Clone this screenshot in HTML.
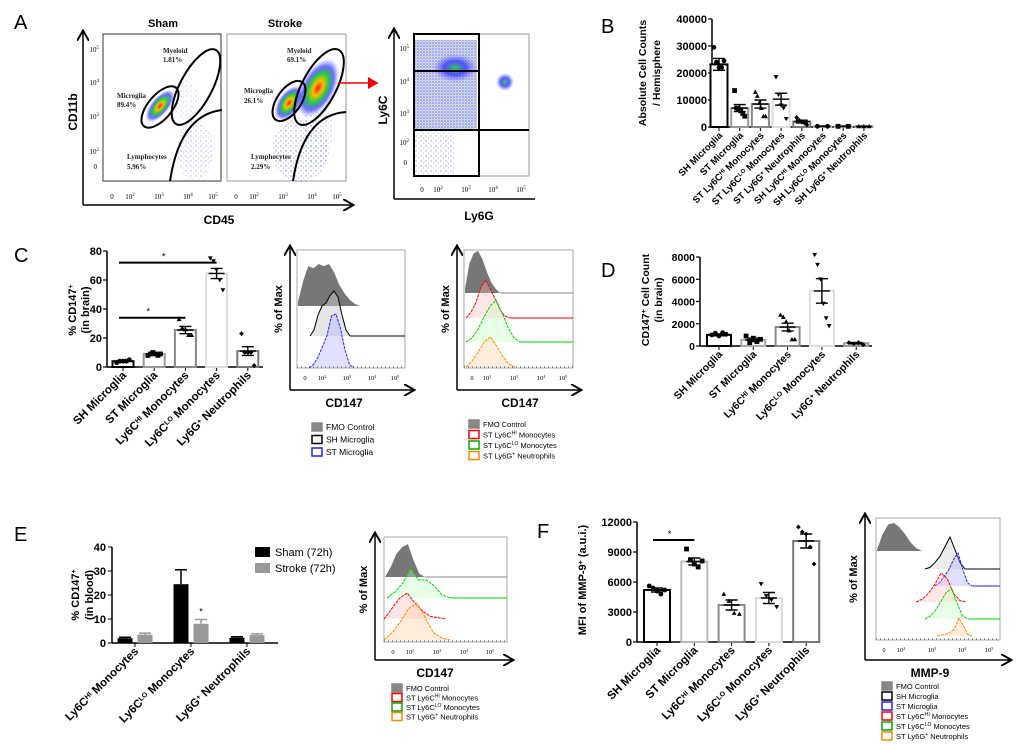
<!DOCTYPE html>
<html><head><meta charset="utf-8"><style>
html,body{margin:0;padding:0;background:#fff;}
svg{display:block;font-family:"Liberation Sans",sans-serif;}
.b{font-weight:bold;}
</style></head><body>
<svg id="fig" width="1020" height="744" viewBox="0 0 1020 744" xmlns="http://www.w3.org/2000/svg">
<defs>
<radialGradient id="heat" cx="50%" cy="50%" r="50%">
<stop offset="0" stop-color="#e22"/><stop offset="0.25" stop-color="#fb0"/><stop offset="0.5" stop-color="#2c4"/><stop offset="0.75" stop-color="#33f" stop-opacity="0.7"/><stop offset="1" stop-color="#66f" stop-opacity="0"/>
</radialGradient>
<radialGradient id="heatg" cx="50%" cy="50%" r="50%">
<stop offset="0" stop-color="#3c5"/><stop offset="0.5" stop-color="#33f" stop-opacity="0.8"/><stop offset="1" stop-color="#66f" stop-opacity="0"/>
</radialGradient>
<pattern id="dots" width="5" height="5" patternUnits="userSpaceOnUse"><circle cx="1" cy="1" r="0.7" fill="#55f"/><circle cx="3.5" cy="3" r="0.6" fill="#88f"/></pattern>
<pattern id="dense" width="3" height="3" patternUnits="userSpaceOnUse"><rect width="3" height="3" fill="#bbf"/><circle cx="1" cy="1" r="0.9" fill="#22d"/><circle cx="2.4" cy="2.2" r="0.6" fill="#4a4"/></pattern>
<marker id="arr" markerWidth="8" markerHeight="8" refX="6" refY="4" orient="auto"><path d="M0,0 L7,4 L0,8" fill="none" stroke="#000" stroke-width="1.3"/></marker>
<marker id="arrR" markerWidth="8" markerHeight="8" refX="6" refY="4" orient="auto"><path d="M0,0 L7,4 L0,8 z" fill="#e00"/></marker>
</defs>

<g font-size="20">
<text x="14" y="29">A</text>
<text x="601" y="33">B</text>
<text x="14" y="262">C</text>
<text x="601" y="277">D</text>
<text x="14" y="541">E</text>
<text x="537" y="538">F</text>
</g>

<g>
<text x="163" y="27" font-size="11" class="b" text-anchor="middle">Sham</text>
<text x="285" y="27" font-size="11" class="b" text-anchor="middle">Stroke</text>
<rect x="103" y="34" width="118" height="147" fill="#fff" stroke="#333"/>
<rect x="227" y="34" width="119" height="147" fill="#fff" stroke="#999"/>
<line x1="83" y1="205" x2="83" y2="32" stroke="#000" stroke-width="1.5" marker-end="url(#arr)"/>
<line x1="83" y1="205" x2="352" y2="205" stroke="#000" stroke-width="1.5" marker-end="url(#arr)"/>
<text transform="translate(77,112) rotate(-90)" font-size="12" class="b" text-anchor="middle">CD11b</text>
<text x="219" y="224" font-size="12" class="b" text-anchor="middle">CD45</text>
<ellipse cx="195" cy="150" rx="18" ry="30" fill="url(#dots)" opacity="0.5"/>
<ellipse cx="185" cy="100" rx="14" ry="20" fill="url(#dots)" opacity="0.35"/>
<ellipse cx="300" cy="150" rx="28" ry="32" fill="url(#dots)" opacity="0.7"/>
<ellipse cx="318" cy="130" rx="14" ry="40" fill="url(#dots)" opacity="0.5"/>
<ellipse cx="160" cy="106" rx="20" ry="9" transform="rotate(-50 160 106)" fill="url(#heat)"/>
<ellipse cx="289" cy="103" rx="20" ry="11" transform="rotate(-55 289 103)" fill="url(#heat)"/>
<ellipse cx="318" cy="88" rx="32" ry="17" transform="rotate(-62 318 88)" fill="url(#heat)"/>
<g fill="none" stroke="#000" stroke-width="2">
<ellipse cx="160" cy="107" rx="25" ry="12" transform="rotate(-50 160 107)"/>
<ellipse cx="196" cy="87" rx="42" ry="16" transform="rotate(-62 196 87)"/>
<path d="M170 181 Q180 115 222 110"/>
<ellipse cx="289" cy="101" rx="23" ry="12" transform="rotate(-55 289 101)"/>
<ellipse cx="319" cy="87" rx="42" ry="17" transform="rotate(-62 319 87)"/>
<path d="M293 181 Q303 115 346 112"/>
</g>
<g font-family="Liberation Serif,serif" font-size="7" class="b" fill="#222">
<text x="163" y="53">Myeloid</text><text x="163" y="62">1.81%</text>
<text x="117" y="98">Microglia</text><text x="117" y="107">89.4%</text>
<text x="127" y="159">Lymphocytes</text><text x="127" y="169">5.96%</text>
<text x="287" y="53">Myeloid</text><text x="287" y="62">69.1%</text>
<text x="244" y="93">Microglia</text><text x="244" y="103">26.1%</text>
<text x="251" y="159">Lymphocytes</text><text x="251" y="169">2.29%</text>
</g>
<g font-family="Liberation Serif,serif" font-size="7" text-anchor="end">
<text x="99" y="52">10<tspan dy="-3" font-size="5">5</tspan></text>
<text x="99" y="85">10<tspan dy="-3" font-size="5">4</tspan></text>
<text x="99" y="119">10<tspan dy="-3" font-size="5">3</tspan></text>
<text x="99" y="154">10<tspan dy="-3" font-size="5">2</tspan></text>
<text x="97" y="169">0</text>
</g>
<g font-family="Liberation Serif,serif" font-size="7" text-anchor="middle">
<text x="112" y="199">0</text><text x="130" y="199">10<tspan dy="-3" font-size="5">2</tspan></text><text x="159" y="199">10<tspan dy="-3" font-size="5">3</tspan></text><text x="188" y="199">10<tspan dy="-3" font-size="5">4</tspan></text><text x="213" y="199">10<tspan dy="-3" font-size="5">5</tspan></text>
<text x="236" y="199">0</text><text x="254" y="199">10<tspan dy="-3" font-size="5">2</tspan></text><text x="283" y="199">10<tspan dy="-3" font-size="5">3</tspan></text><text x="312" y="199">10<tspan dy="-3" font-size="5">4</tspan></text><text x="337" y="199">10<tspan dy="-3" font-size="5">5</tspan></text>
</g>
<line x1="338" y1="83" x2="377" y2="83" stroke="#e00" stroke-width="1.5" marker-end="url(#arrR)"/>
<rect x="414" y="34" width="115" height="142" fill="#fff" stroke="#999"/>
<rect x="415" y="40" width="62" height="90" fill="url(#dense)" opacity="0.55"/>
<rect x="415" y="130" width="40" height="45" fill="url(#dots)" opacity="0.6"/>
<ellipse cx="455" cy="68" rx="22" ry="14" fill="url(#heatg)"/>
<ellipse cx="505" cy="82" rx="9" ry="9" fill="url(#heatg)"/>
<g stroke="#000" stroke-width="2" fill="none">
<rect x="414" y="34" width="65" height="142"/>
<line x1="414" y1="71" x2="479" y2="71"/><line x1="414" y1="130" x2="529" y2="130"/>
</g>
<line x1="394" y1="199" x2="394" y2="30" stroke="#000" stroke-width="1.5" marker-end="url(#arr)"/>
<line x1="394" y1="199" x2="535" y2="199" stroke="#000" stroke-width="1.5"/>
<text transform="translate(387,110) rotate(-90)" font-size="12" class="b" text-anchor="middle">Ly6C</text>
<text x="479" y="220" font-size="12" class="b" text-anchor="middle">Ly6G</text>
<g font-family="Liberation Serif,serif" font-size="7" text-anchor="end">
<text x="409" y="51">10<tspan dy="-3" font-size="5">5</tspan></text><text x="409" y="84">10<tspan dy="-3" font-size="5">4</tspan></text><text x="409" y="116">10<tspan dy="-3" font-size="5">3</tspan></text><text x="409" y="145">10<tspan dy="-3" font-size="5">2</tspan></text><text x="407" y="165">0</text>
</g>
<g font-family="Liberation Serif,serif" font-size="7" text-anchor="middle">
<text x="422" y="192">0</text><text x="438" y="192">10<tspan dy="-3" font-size="5">2</tspan></text><text x="466" y="192">10<tspan dy="-3" font-size="5">3</tspan></text><text x="493" y="192">10<tspan dy="-3" font-size="5">4</tspan></text><text x="521" y="192">10<tspan dy="-3" font-size="5">5</tspan></text>
</g>
</g>

<g id="charts"></g>
<g id="hists"></g>

<g font-size="11">
<rect x="255" y="547" width="15" height="10" fill="#000"/>
<text x="275" y="556">Sham (72h)</text>
<rect x="255" y="563" width="15" height="10" fill="#999"/>
<text x="275" y="572">Stroke (72h)</text>
</g>
</svg>
<script>
const bCategories = ["SH Microglia","ST Microglia","ST Ly6C^HI Monocytes","ST Ly6C^LO Monocytes","ST Ly6G^+ Neutrophils","SH Ly6C^HI Monocytes","SH Ly6C^LO Monocytes","SH Ly6G^+ Neutrophils"];
const bMeans = [23200, 7000, 8500, 10300, 2000, 250, 250, 250];
const bSem = [2200, 1300, 1500, 2200, 500, 80, 80, 80];
const bPoints = [[29500,24000,22000,22000,24500],[13500,7000,6500,6000,5000,4000],[13000,11500,9000,7000,4000,4000],[18500,12000,8000,7000,3000],[3500,2500,1800,1500,800],[250,250],[250,250],[250,250,250]];
const bTicks = [0,10000,20000,30000,40000];

const cCategories = ["SH Microglia","ST Microglia","Ly6C^HI Monocytes","Ly6C^LO Monocytes","Ly6G^+ Neutrophils"];
const cMeans = [4, 9, 25.5, 64.5, 11];
const cSem = [0.5, 0.5, 2.5, 3.5, 3];
const cPoints = [[3,4,4,4,5],[8,9,10,9,8,9],[33,27,26,22,22],[75,73,67,60,53],[23,10,10,10,1]];
const cTicks = [0,20,40,60,80];

const dCategories = ["SH Microglia","ST Microglia","Ly6C^HI Monocytes","Ly6C^LO Monocytes","Ly6G^+ Neutrophils"];
const dMeans = [1000, 550, 1700, 4950, 250];
const dSem = [80, 150, 350, 1100, 60];
const dPoints = [[1000,1150,900,1200,1050],[900,300,700,400,600],[2800,2600,2200,1400,600,600],[8200,7300,6000,3800,2500,1800],[300,200,300,100]];
const dTicks = [0,2000,4000,6000,8000];

const eCategories = ["Ly6C^HI Monocytes","Ly6C^LO Monocytes","Ly6G^+ Neutrophils"];
const eSham = [2, 24.5, 2.2];
const eShamErr = [0.4, 6, 0.4];
const eStroke = [3.5, 8, 3.3];
const eStrokeErr = [0.6, 1.8, 0.5];
const eTicks = [0,10,20,30,40];

const fCategories = ["SH Microglia","ST Microglia","Ly6C^HI Monocytes","Ly6C^LO Monocytes","Ly6G^+ Neutrophils"];
const fMeans = [5200, 8050, 3700, 4400, 10100];
const fSem = [200, 350, 500, 550, 700];
const fPoints = [[5600,5400,5100,4800,5200],[9300,8200,7800,7500,8100],[4800,4100,2900,2800],[5800,4600,4200,3500],[11500,11000,10800,9500,7800]];
const fTicks = [0,3000,6000,9000,12000];

const hC1Fmo = [0.1,0.6,0.95,0.9,1,0.95,1,0.8,0.5,0.3,0.15,0.05,0];
const hC1Sh = [0,0.2,0.7,1,1.1,1.35,1.5,1.3,0.7,0.2,0];
const hC1St = [0,0.1,0.3,0.6,0.9,1.45,1.5,1.1,0.5,0.1,0];
const hC2Fmo = [0.1,0.7,0.95,1,0.8,0.5,0.25,0.1,0];
const hC2Red = [0,0.15,0.4,0.8,1,0.75,0.5,0.2,0.05,0];
const hC2Green = [0,0.1,0.3,0.6,0.85,1,0.7,0.35,0.1,0];
const hC2Orange = [0,0.2,0.5,0.85,1,0.7,0.35,0.1,0];
const hEFmo = [0,0.3,0.7,0.9,1,0.5,0.1,0];
const hEGreen = [0,0.2,0.5,1,0.6,0.6,0.4,0.1,0];
const hERed = [0,0.4,0.8,1,0.6,0.3,0.1,0.05,0];
const hEOrange = [0,0.2,0.5,0.85,1,0.6,0.2,0.05,0];
const hFFmo = [0.05,0.6,0.95,1,0.85,0.6,0.3,0.1,0];
const hFBlack = [0,0.05,0.2,0.4,0.7,1,0.6,0.2,0];
const hFBlue = [0,0.1,0.3,0.5,0.8,1,0.5,0.1,0];
const hFRed = [0,0.1,0.3,0.6,1,0.8,0.3,0.05,0];
const hFGreen = [0,0.1,0.3,0.6,0.9,1,0.5,0.1,0];
const hFOrange = [0,0.05,0.1,0.2,0.4,1,0.6,0.1,0];

const NS = "http://www.w3.org/2000/svg";
function mk(tag, attrs, parent){const e=document.createElementNS(NS,tag);for(const k in attrs)e.setAttribute(k,attrs[k]);if(parent)parent.appendChild(e);return e;}
function rich(t, str, fs){
  const parts = str.split(/(\^\S+)/);
  parts.forEach(p=>{ if(!p)return;
    if(p[0]==='^'){const s=mk('tspan',{'baseline-shift':'super','font-size':Math.round(fs*0.65)},t);s.textContent=p.slice(1);}
    else {const s=mk('tspan',{},t);s.textContent=p;}
  });
}
function marker(g, shape, x, y, r){
  let e;
  if(shape==='circle') e=mk('circle',{cx:x,cy:y,r:r},g);
  else if(shape==='square') e=mk('rect',{x:x-r,y:y-r,width:2*r,height:2*r},g);
  else if(shape==='up') e=mk('path',{d:`M${x},${y-r} L${x+r},${y+r*0.8} L${x-r},${y+r*0.8}Z`},g);
  else if(shape==='down') e=mk('path',{d:`M${x},${y+r} L${x+r},${y-r*0.8} L${x-r},${y-r*0.8}Z`},g);
  else e=mk('path',{d:`M${x},${y-r} L${x+r},${y} L${x},${y+r} L${x-r},${y}Z`},g);
  e.setAttribute('fill','#000');
  
  
}
const root = document.getElementById('charts');

function barChart(c){
  const g = mk('g',{},root);
  
  
  const yS = v => c.y0 - (v - c.ticks[0])/(c.ticks[c.ticks.length-1]-c.ticks[0])*(c.y0-c.y1);
  const xS = i => c.xs0 + i*c.step;
  mk('line',{x1:c.ax,y1:c.y1,x2:c.ax,y2:c.y0,stroke:'#000','stroke-width':1.5},g);
  mk('line',{x1:c.ax,y1:c.y0,x2:c.axEnd,y2:c.y0,stroke:'#000','stroke-width':1.5},g);
  c.ticks.forEach(t=>{
    const y=yS(t);
    mk('line',{x1:c.ax-4,y1:y,x2:c.ax,y2:y,stroke:'#000','stroke-width':1.2},g);
    const tx=mk('text',{x:c.ax-5,y:y+4,'font-size':c.tfs,'font-weight':'bold','text-anchor':'end'},g);
    tx.textContent=t;
    
    
  });
  c.cats.forEach((cat,i)=>{
    const x=xS(i);
    mk('line',{x1:x,y1:c.y0,x2:x,y2:c.y0+4,stroke:'#000'},g);
    const tx=mk('text',{transform:`translate(${x+4},${c.y0+9}) rotate(-45)`,'font-size':c.lfs,'font-weight':'bold','text-anchor':'end'},g);
    rich(tx,cat,c.lfs);
    
    
  });
  c.means.forEach((m,i)=>{
    const x=xS(i), y=yS(m);
    const r=mk('rect',{x:x-c.bw/2,y:y,width:c.bw,height:c.y0-y,fill:'#fff',stroke:c.colors[i],'stroke-width':2},g);
    
    
    (c.points[i]||[]).forEach((p,j)=>{
      const n=c.points[i].length; const off=(j-(n-1)/2)*(c.bw*0.6/Math.max(n-1,1));
      marker(g,c.shapes[i],x+off,yS(p),2.4);
    });
    const s=c.sem[i];
    const eb=mk('path',{d:`M${x},${yS(m+s)} L${x},${yS(m-s)} M${x-6},${yS(m+s)} L${x+6},${yS(m+s)} M${x-6},${yS(m-s)} L${x+6},${yS(m-s)} M${x-8},${y} L${x+8},${y}`,stroke:'#000','stroke-width':1.4,fill:'none'},g);
    
    
  });
  c.title.forEach((t,k)=>{
    const tx=mk('text',{transform:`translate(${c.tx+k*c.tdx},${c.ty}) rotate(-90)`,'font-size':c.titleFs,'font-weight':'bold','text-anchor':'middle'},g);
    rich(tx,t,c.titleFs);
    
    
  });
  (c.sig||[]).forEach(s=>{
    mk('line',{x1:xS(s[0])-4,y1:yS(s[2]),x2:xS(s[1]),y2:yS(s[2]),stroke:'#000','stroke-width':2},g);
    const st=mk('text',{x:(xS(s[0])+xS(s[1]))/2-6,y:yS(s[2])-3,'font-size':9,'text-anchor':'middle'},g);
    st.textContent='*';
  });
  return {g,yS,xS};
}

barChart({name:'panel-b-chart',cats:bCategories,means:bMeans,sem:bSem,points:bPoints,ticks:bTicks,
  ax:712,axEnd:873,y0:127,y1:19,xs0:719,step:20.7,bw:17,tfs:11,lfs:9.5,titleFs:10.5,
  colors:['#000','#999','#888','#ddd','#777','#bbb','#bbb','#999'],shapes:['circle','square','up','down','diamond','circle','square','up'],
  title:['Absolute Cell Counts','/ Hemisphere'],tx:646,tdx:14,ty:73});

barChart({name:'panel-c-chart',cats:cCategories,means:cMeans,sem:cSem,points:cPoints,ticks:cTicks,
  ax:107,axEnd:263,y0:367,y1:251,xs0:123,step:31.2,bw:21,tfs:11,lfs:11.5,titleFs:11,
  colors:['#000','#999','#888','#ddd','#777'],shapes:['circle','square','up','down','diamond'],
  title:['% CD147^+','(in brain)'],tx:76,tdx:13,ty:310,sig:[[0,3,72],[0,2,34]]});

barChart({name:'panel-d-chart',cats:dCategories,means:dMeans,sem:dSem,points:dPoints,ticks:dTicks,
  ax:700,axEnd:872,y0:346,y1:257,xs0:719,step:34.3,bw:24,tfs:10.5,lfs:10.5,titleFs:10.5,
  colors:['#000','#aaa','#888','#ddd','#999'],shapes:['circle','square','up','down','diamond'],
  title:['CD147^+ Cell Count','(in brain)'],tx:649,tdx:13,ty:300});

barChart({name:'panel-f-chart',cats:fCategories,means:fMeans,sem:fSem,points:fPoints,ticks:fTicks,
  ax:637,axEnd:820,y0:642,y1:522,xs0:657,step:37.3,bw:26,tfs:11,lfs:11.5,titleFs:11,
  colors:['#000','#bbb','#888','#ddd','#777'],shapes:['circle','square','up','down','diamond'],
  title:['MFI of MMP-9^+ (a.u.i.)'],tx:586,tdx:0,ty:580,sig:[[0,1,10200]]});

(function(){
  const g=mk('g',{},root);
  
  
  const ax=112, y0=643, y1=547, axEnd=278;
  const yS=v=>y0-(v-eTicks[0])/(eTicks[eTicks.length-1]-eTicks[0])*(y0-y1);
  const gx=i=>135+i*56;
  mk('line',{x1:ax,y1:y1,x2:ax,y2:y0,stroke:'#000','stroke-width':1.5},g);
  mk('line',{x1:ax,y1:y0,x2:axEnd,y2:y0,stroke:'#000','stroke-width':1.5},g);
  eTicks.forEach(t=>{const y=yS(t);mk('line',{x1:ax-4,y1:y,x2:ax,y2:y,stroke:'#000'},g);
    const tx=mk('text',{x:ax-6,y:y+4,'font-size':11,'font-weight':'bold','text-anchor':'end'},g);tx.textContent=t;
    
    });
  eCategories.forEach((cat,i)=>{const x=gx(i);
    mk('line',{x1:x,y1:y0,x2:x,y2:y0+4,stroke:'#000'},g);
    const tx=mk('text',{transform:`translate(${x+4},${y0+9}) rotate(-45)`,'font-size':11.5,'font-weight':'bold','text-anchor':'end'},g);
    rich(tx,cat,11.5);
    
    
    [[eSham,eShamErr,'#000',-10],[eStroke,eStrokeErr,'#999',10]].forEach(([vals,err,col,dx])=>{
      const bx=x+dx, y=yS(vals[i]);
      const r=mk('rect',{x:bx-7.5,y:y,width:15,height:y0-y,fill:col},g);
      
      
      const ey=yS(vals[i]+err[i]);
      mk('path',{d:`M${bx},${y} L${bx},${ey} M${bx-6},${ey} L${bx+6},${ey}`,stroke:col,'stroke-width':1.5,fill:'none'},g);
    });
  });
  const st=mk('text',{x:gx(1)+10,y:yS(eStroke[1]+eStrokeErr[1])-5,'font-size':9,'text-anchor':'middle'},g);st.textContent='*';
  const t1=mk('text',{transform:'translate(79,595) rotate(-90)','font-size':11,'font-weight':'bold','text-anchor':'middle'},g);rich(t1,'% CD147^+',11);
  
  
  const t2=mk('text',{transform:'translate(93,595) rotate(-90)','font-size':11,'font-weight':'bold','text-anchor':'middle'},g);t2.textContent='(in blood)';
})();

const hr=document.getElementById('hists');
function curve(g,vals,xa,xb,base,h,stroke,fill,fillOp,tail){
  const n=vals.length; let d='';
  vals.forEach((v,i)=>{const x=xa+(xb-xa)*i/(n-1), y=base-v*h; d+=(i?'L':'M')+x.toFixed(1)+','+y.toFixed(1)+' ';});
  const area=mk('path',{d:d+`L${xb},${base} L${xa},${base}Z`,fill:fill,'fill-opacity':fillOp,stroke:'none'},g);
  
  
  if(stroke){mk('path',{d:d,fill:'none',stroke:stroke,'stroke-width':1,'stroke-dasharray':stroke==='#000'?'':'3,1'},g);}
  if(tail){mk('line',{x1:xb,y1:base,x2:tail,y2:base,stroke:stroke||'#888','stroke-width':1},g);}
}
function histPanel(p){
  const g=mk('g',{},hr);
  
  
  mk('rect',{x:p.bx,y:p.by,width:p.bw,height:p.bh,fill:'#fff',stroke:'#aaa'},g);
  p.curves.forEach(c=>curve(g,...c));
  mk('line',{x1:p.ax,y1:p.ay,x2:p.ax,y2:p.by-3,stroke:'#000','stroke-width':1.5,'marker-end':'url(#arr)'},g);
  mk('line',{x1:p.ax,y1:p.ay,x2:p.axEnd,y2:p.ay,stroke:'#000','stroke-width':1.5,'marker-end':'url(#arr)'},g);
  const yl=mk('text',{transform:`translate(${p.ax-8},${p.by+p.bh/2}) rotate(-90)`,'font-size':11,'font-weight':'bold','text-anchor':'middle'},g);yl.textContent='% of Max';
  
  
  const xl=mk('text',{x:p.xlx,y:p.ay+17,'font-size':12,'font-weight':'bold','text-anchor':'middle'},g);xl.textContent=p.xlabel;
  
  
  p.ticks.forEach((tx,i)=>{const t=mk('text',{x:tx,y:p.by+p.bh+12,'font-size':6.5,'font-family':'Liberation Serif,serif','text-anchor':'middle'},g);
    if(i===0)t.textContent='0';else rich(t,'10^'+(i+1),6.5);});
  mk('line',{x1:p.bx,y1:p.by+p.bh-1,x2:p.bx+p.bw,y2:p.by+p.bh-1,stroke:'#555','stroke-width':1,'stroke-dasharray':'1,3'},g);
  p.legend.forEach((l,i)=>{const y=p.ly+i*p.lstep;
    const sw=mk('rect',{x:p.lx,y:y-7,width:10,height:8,fill:l[1]?'#fff':'#888',stroke:l[1]||'#888','stroke-width':1.5},g);
    
    
    const t=mk('text',{x:p.lx+14,y:y,'font-size':p.lfs},g);rich(t,l[0],p.lfs);
    
    });
}
const G='#777';
histPanel({name:'c-histogram-microglia',bx:297,by:250,bw:108,bh:118,ax:290,ay:390,axEnd:413,xlx:344,xlabel:'CD147',
  ticks:[305,322,347,372,395],
  curves:[[hC1Fmo,298,360,306,42,null,G,1,null],[[0],368,405,306,0,'#999','#fff',0,405],
    [hC1Sh,310,350,336,30,'#000','#ccc',0.5,405],[hC1St,309,354,368,36,'#22f','#aaf',0.35,null]],
  legend:[['FMO Control',null],['SH Microglia','#000'],['ST Microglia','#22f']],lx:312,ly:430,lstep:12.5,lfs:8.5});
histPanel({name:'c-histogram-myeloid',bx:464,by:250,bw:109,bh:118,ax:457,ay:390,axEnd:580,xlx:520,xlabel:'CD147',
  ticks:[472,487,514,541,563],
  curves:[[hC2Fmo,465,500,293,42,null,G,1,573],[hC2Red,466,510,318,38,'#f00','#fbb',0.35,573],
    [hC2Green,466,520,342,42,'#0c0','#bfb',0.35,573],[hC2Orange,466,515,367,30,'#f80','#fc9',0.35,null]],
  legend:[['FMO Control',null],['ST Ly6C^HI Monocytes','#f00'],['ST Ly6C^LO Monocytes','#0a0'],['ST Ly6G^+ Neutrophils','#f80']],lx:469,ly:427,lstep:10.5,lfs:7.5});
histPanel({name:'e-histogram',bx:384,by:537,bw:123,bh:105,ax:375,ay:660,axEnd:512,xlx:435,xlabel:'CD147',
  ticks:[393,410,437,464,490],
  curves:[[hEFmo,385,425,577,33,null,G,1,507],[hEGreen,387,450,598,30,'#0c0','#bfb',0.35,507],
    [hERed,384,446,619,26,'#f00','#fbb',0.35,null],[hEOrange,384,450,640,37,'#f80','#fc9',0.35,null]],
  legend:[['FMO Control',null],['ST Ly6C^HI Monocytes','#f00'],['ST Ly6C^LO Monocytes','#0a0'],['ST Ly6G^+ Neutrophils','#f80']],lx:392,ly:691,lstep:9.5,lfs:7.5});
histPanel({name:'f-histogram',bx:876,by:518,bw:124,bh:122,ax:865,ay:660,axEnd:1010,xlx:930,xlabel:'MMP-9',
  ticks:[884,901,932,962,989],
  curves:[[hFFmo,877,922,551,28,null,G,1,null],[hFBlack,925,965,569,32,'#000','#ccc',0.4,1000],
    [hFBlue,935,972,586,33,'#22f','#aaf',0.35,1000],[hFRed,916,966,602,29,'#f00','#fbb',0.35,null],
    [hFGreen,925,968,619,30,'#0c0','#bfb',0.35,1000],[hFOrange,937,972,636,18,'#f80','#fc9',0.35,null]],
  legend:[['FMO Control',null],['SH Microglia','#000'],['ST Microglia','#22f'],['ST Ly6C^HI Monocytes','#f00'],['ST Ly6C^LO Monocytes','#0a0'],['ST Ly6G^+ Neutrophils','#f80']],lx:882,ly:689,lstep:10,lfs:7.5});
</script>
</body></html>
